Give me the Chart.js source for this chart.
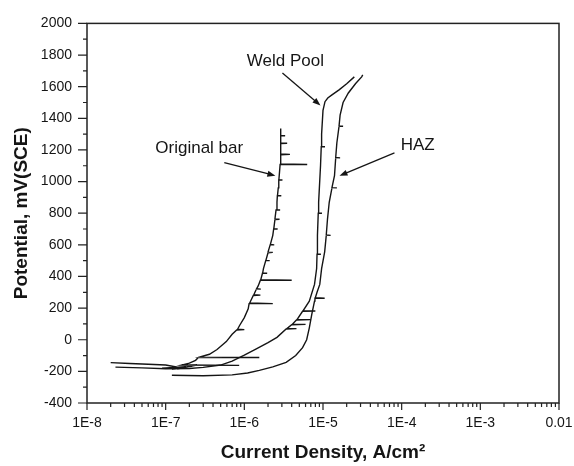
<!DOCTYPE html>
<html lang="en">
<head>
<meta charset="UTF-8">
<title>Polarization curves</title>
<script src="https://cdn.jsdelivr.net/npm/chart.js@4"></script>
<style>
    body { margin: 0; background: #fff; }
    #wrap { width: 574px; height: 466px; }
</style>
</head>
<body>
<div id="wrap"><canvas id="chart" width="574" height="466"></canvas></div>
<script>
// [current density A/cm2, potential mV(SCE)], spikes and hatches included
const originalBar = [
    [2.0e-8, -145], [3.5e-8, -150], [6e-8, -155], [1.0e-7, -160], [1.5e-7, -176], [9e-8, -180],
    [1.8e-7, -170], [1.2e-7, -186], [2.2e-7, -166], [1.4e-7, -184], [2.5e-7, -160],
    [1.5e-7, -162], [8.6e-7, -162], [1.6e-7, -160], [2.0e-7, -148], [2.4e-7, -130],
    [2.6e-7, -112], [1.55e-6, -112], [2.7e-7, -110], [3.6e-7, -92], [4.5e-7, -62], [5.9e-7, -12],
    [7.0e-7, 35], [8.0e-7, 62], [1.0e-6, 64], [8.2e-7, 66], [8.7e-7, 90], [1.0e-6, 140],
    [1.12e-6, 195], [1.15e-6, 228], [2.3e-6, 228], [1.17e-6, 232], [1.3e-6, 280], [1.6e-6, 282],
    [1.32e-6, 284], [1.42e-6, 320], [1.62e-6, 320], [1.43e-6, 322], [1.5e-6, 340],
    [1.6e-6, 376], [4.0e-6, 376], [1.62e-6, 380], [1.7e-6, 420], [1.95e-6, 420], [1.71e-6, 422],
    [1.75e-6, 450], [1.87e-6, 500], [2.1e-6, 500], [1.88e-6, 502], [2.0e-6, 550], [2.3e-6, 552],
    [2.0e-6, 554], [2.13e-6, 600], [2.4e-6, 600], [2.14e-6, 602], [2.3e-6, 660],
    [2.36e-6, 700], [2.65e-6, 700], [2.37e-6, 702], [2.45e-6, 760], [2.8e-6, 762], [2.45e-6, 764],
    [2.53e-6, 820], [2.85e-6, 820], [2.54e-6, 822], [2.6e-6, 870], [2.63e-6, 910], [2.95e-6, 910],
    [2.64e-6, 912], [2.7e-6, 960], [2.74e-6, 1010], [3.05e-6, 1010], [2.75e-6, 1012], [2.8e-6, 1060],
    [2.85e-6, 1108], [6.3e-6, 1108], [2.85e-6, 1112], [2.9e-6, 1170], [3.8e-6, 1172], [2.9e-6, 1174],
    [2.9e-6, 1240], [3.5e-6, 1242], [2.9e-6, 1244], [2.9e-6, 1290], [3.3e-6, 1290], [2.9e-6, 1292],
    [2.9e-6, 1336]
];
const weldPool = [
    [2.3e-8, -173], [5e-8, -178], [1.0e-7, -183], [2.0e-7, -182], [3.0e-7, -175], [5e-7, -160],
    [7e-7, -135], [1.0e-6, -98], [1.4e-6, -60], [2.0e-6, -18], [2.6e-6, 15], [3.4e-6, 68],
    [4.6e-6, 70], [3.5e-6, 72], [4.0e-6, 95], [6.0e-6, 97], [4.1e-6, 99], [4.6e-6, 125],
    [7.0e-6, 127], [4.7e-6, 129], [5.5e-6, 180], [8.0e-6, 182], [5.6e-6, 184], [6.7e-6, 244],
    [7.8e-6, 350], [8.3e-6, 450], [8.4e-6, 540], [9.4e-6, 540], [8.4e-6, 542], [8.5e-6, 660],
    [8.7e-6, 800], [9.7e-6, 800], [8.7e-6, 802], [8.8e-6, 870], [9.3e-6, 1100],
    [9.5e-6, 1220], [1.06e-5, 1220], [9.5e-6, 1222], [9.6e-6, 1300],
    [1.0e-5, 1450], [1.06e-5, 1505], [1.15e-5, 1528], [1.3e-5, 1548], [1.6e-5, 1580],
    [2.0e-5, 1618], [2.5e-5, 1662]
];
const haz = [
    [1.2e-7, -225], [3e-7, -228], [7e-7, -222], [1.1e-6, -210], [1.55e-6, -194], [2.3e-6, -172],
    [3.4e-6, -143], [4.5e-6, -100], [5.5e-6, -50], [6.2e-6, 0], [6.7e-6, 75], [7.2e-6, 160],
    [7.8e-6, 244], [7.9e-6, 262], [1.05e-5, 262], [8.0e-6, 266], [8.4e-6, 300], [9.1e-6, 350],
    [9.6e-6, 450], [1.05e-5, 556], [1.1e-5, 660], [1.25e-5, 660], [1.1e-5, 662], [1.14e-5, 762],
    [1.2e-5, 869], [1.3e-5, 960], [1.5e-5, 960], [1.3e-5, 962], [1.4e-5, 1037],
    [1.45e-5, 1150], [1.65e-5, 1150], [1.45e-5, 1152], [1.5e-5, 1244],
    [1.6e-5, 1350], [1.8e-5, 1350], [1.6e-5, 1352],
    [1.65e-5, 1420], [1.8e-5, 1500], [2.1e-5, 1560], [2.6e-5, 1620], [3.1e-5, 1662], [3.2e-5, 1675]
];

const xTickValues = [1e-8, 1e-7, 1e-6, 1e-5, 1e-4, 1e-3, 1e-2];
const xTickLabels = ['1E-8', '1E-7', '1E-6', '1E-5', '1E-4', '1E-3', '0.01'];
const yTickValues = [-400, -200, 0, 200, 400, 600, 800, 1000, 1200, 1400, 1600, 1800, 2000];

// labels with arrows, in data coordinates
const notes = [
    { text: 'Original bar', at: [2.67e-7, 1212], from: [5.56e-7, 1119], to: [2.48e-6, 1037] },
    { text: 'Weld Pool', at: [3.33e-6, 1762], from: [3.05e-6, 1687], to: [9.29e-6, 1481] },
    { text: 'HAZ', at: [1.6e-4, 1231], from: [8.1e-5, 1181], to: [1.62e-5, 1037] }
];

const FONT = '"Liberation Sans", Arial, sans-serif';
const INK = '#151515';

const framePlugin = {
    id: 'frame',
    afterDraw(chart) {
        const { ctx, chartArea: a, scales: { x, y } } = chart;
        ctx.save();
        ctx.strokeStyle = '#222';
        ctx.lineWidth = 1.5;
        ctx.strokeRect(a.left, a.top, a.right - a.left, a.bottom - a.top);

        // tick marks, major and minor
        ctx.lineWidth = 1.2;
        ctx.beginPath();
        xTickValues.forEach((v, i) => {
            const px = x.getPixelForValue(v);
            ctx.moveTo(px, a.bottom); ctx.lineTo(px, a.bottom + 7);
            if (i < xTickValues.length - 1) {
                for (let m = 2; m <= 9; m++) {
                    const mx = x.getPixelForValue(v * m);
                    ctx.moveTo(mx, a.bottom); ctx.lineTo(mx, a.bottom + 4);
                }
            }
        });
        yTickValues.forEach((v, i) => {
            const py = y.getPixelForValue(v);
            ctx.moveTo(a.left, py); ctx.lineTo(a.left - 9, py);
            if (i < yTickValues.length - 1) {
                const my = y.getPixelForValue(v + 100);
                ctx.moveTo(a.left, my); ctx.lineTo(a.left - 4, my);
            }
        });
        ctx.stroke();

        // annotations
        ctx.fillStyle = INK;
        ctx.strokeStyle = INK;
        ctx.lineWidth = 1.3;
        ctx.font = '17px ' + FONT;
        ctx.textAlign = 'center';
        ctx.textBaseline = 'middle';
        notes.forEach(n => {
            ctx.fillText(n.text, x.getPixelForValue(n.at[0]), y.getPixelForValue(n.at[1]));
            const x1 = x.getPixelForValue(n.from[0]), y1 = y.getPixelForValue(n.from[1]);
            const x2 = x.getPixelForValue(n.to[0]), y2 = y.getPixelForValue(n.to[1]);
            const ang = Math.atan2(y2 - y1, x2 - x1);
            ctx.beginPath();
            ctx.moveTo(x1, y1);
            ctx.lineTo(x2 - 5 * Math.cos(ang), y2 - 5 * Math.sin(ang));
            ctx.stroke();
            ctx.beginPath();
            ctx.moveTo(x2, y2);
            ctx.lineTo(x2 - 8 * Math.cos(ang) + 3 * Math.sin(ang), y2 - 8 * Math.sin(ang) - 3 * Math.cos(ang));
            ctx.lineTo(x2 - 8 * Math.cos(ang) - 3 * Math.sin(ang), y2 - 8 * Math.sin(ang) + 3 * Math.cos(ang));
            ctx.closePath();
            ctx.fill();
        });
        ctx.restore();
    }
};

const toPoints = arr => arr.map(([x, y]) => ({ x, y }));
const lineStyle = { showLine: true, pointRadius: 0, borderColor: INK, borderWidth: 1.4, fill: false, tension: 0 };

new Chart(document.getElementById('chart'), {
    type: 'scatter',
    data: {
        datasets: [
            { label: 'Original bar', data: toPoints(originalBar), ...lineStyle },
            { label: 'Weld Pool', data: toPoints(weldPool), ...lineStyle },
            { label: 'HAZ', data: toPoints(haz), ...lineStyle }
        ]
    },
    options: {
        responsive: false,
        animation: false,
        layout: { padding: { top: 19, right: 0, bottom: 0, left: 0 } },
        plugins: { legend: { display: false }, tooltip: { enabled: false } },
        scales: {
            x: {
                type: 'logarithmic',
                min: 1e-8,
                max: 1e-2,
                grid: { display: false, drawTicks: false },
                border: { display: false },
                afterBuildTicks: s => { s.ticks = xTickValues.map(v => ({ value: v })); },
                afterFit: s => { s.height = 63; s.paddingRight = 15; s.paddingLeft = 0; },
                ticks: {
                    autoSkip: false,
                    maxRotation: 0,
                    padding: 12,
                    color: INK,
                    font: { family: FONT, size: 14 },
                    callback: v => xTickLabels[xTickValues.indexOf(v)]
                },
                title: {
                    display: true,
                    text: 'Current Density, A/cm²',
                    color: INK,
                    font: { family: FONT, size: 19, weight: 'bold' },
                    padding: { top: 0, bottom: 2 }
                }
            },
            y: {
                min: -400,
                max: 2000,
                grid: { display: false, drawTicks: false },
                border: { display: false },
                afterBuildTicks: s => { s.ticks = yTickValues.map(v => ({ value: v })); },
                afterFit: s => { s.width = 87; },
                ticks: {
                    padding: 15,
                    color: INK,
                    font: { family: FONT, size: 14 },
                    callback: v => String(v)
                },
                title: {
                    display: true,
                    text: 'Potential, mV(SCE)',
                    color: INK,
                    font: { family: FONT, size: 19, weight: 'bold' },
                    padding: { top: 10, bottom: 0 }
                }
            }
        }
    },
    plugins: [framePlugin]
});
</script>
</body>
</html>
